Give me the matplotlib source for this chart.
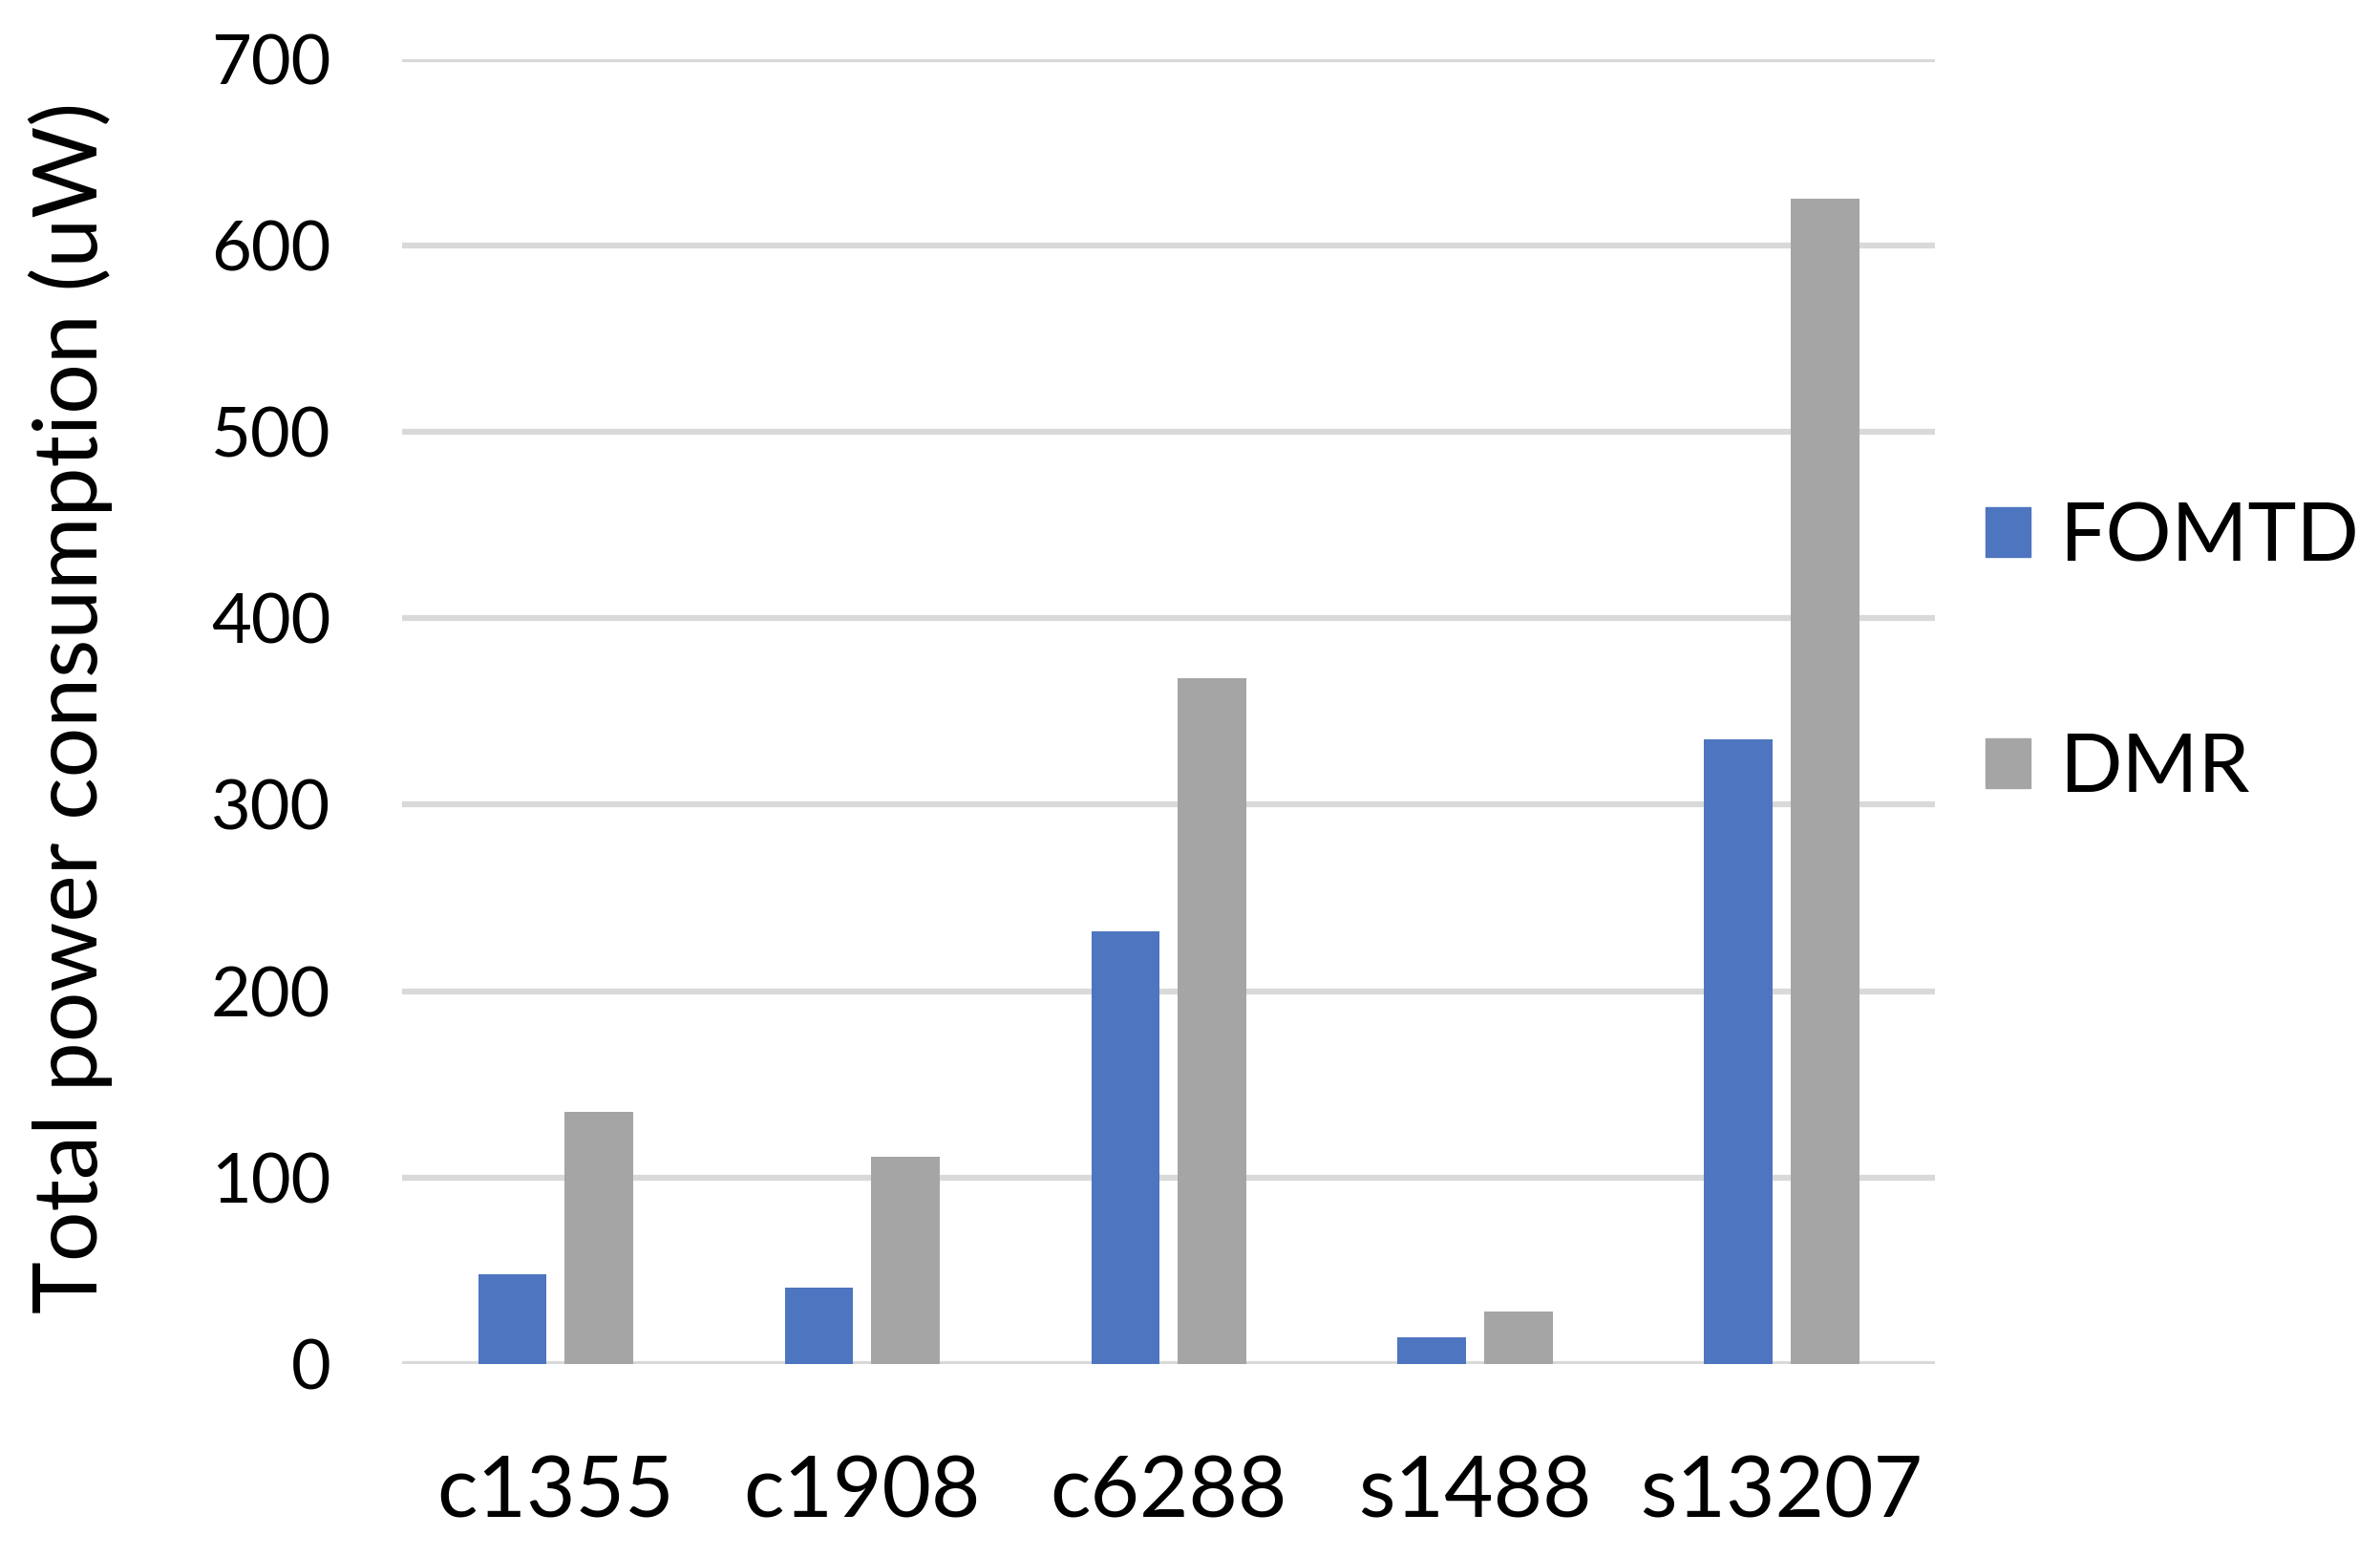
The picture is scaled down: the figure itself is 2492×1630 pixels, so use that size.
import numpy as np
import matplotlib.pyplot as plt
from matplotlib.patches import Patch

# data
circuits = ["c1355", "c1908", "c6288", "s1488", "s13207"]
fomtd = [48, 41, 232, 14.5, 335]
dmr = [135, 111, 368, 28, 625]
y_ticks = [0, 100, 200, 300, 400, 500, 600, 700]

blue = "#4e75bf"
gray = "#a5a5a5"
grid_gray = "#d9d9d9"

plt.rcParams['font.family'] = ['Lato', 'DejaVu Sans']

fig = plt.figure(figsize=(24.92, 16.30), dpi=100)
ax = fig.add_axes([0.169, 0.124, 0.644, 0.838])

x = np.arange(len(circuits))
w = 0.223
ax.bar(x - 0.141, fomtd, w, color=blue, zorder=3)
ax.bar(x + 0.141, dmr, w, color=gray, zorder=3)

ax.set_xlim(-0.5, len(circuits) - 0.5)
ax.set_ylim(0, 700)
ax.set_yticks(y_ticks)
ax.set_xticks(x)
ax.set_xticklabels(circuits)
ax.tick_params(axis='y', length=0, labelsize=52, pad=54)
ax.tick_params(axis='x', length=0, labelsize=64, pad=68)

ax.grid(axis='y', color=grid_gray, linewidth=4.5, zorder=0)
ax.set_axisbelow(True)
for s in ax.spines.values():
    s.set_visible(False)

ax.set_ylabel("Total power consumption (uW)", fontsize=67)
ax.yaxis.set_label_coords(-0.189, 0.503)

handles = [Patch(color=blue, label="FOMTD"), Patch(color=gray, label="DMR")]
fig.legend(handles=handles, loc='center left', bbox_to_anchor=(0.817, 0.58),
           frameon=False, fontsize=62, handlelength=0.55, handleheight=0.55,
           handletextpad=0.35, labelspacing=1.9, borderpad=0)

fig.savefig("out.png", dpi=100)
